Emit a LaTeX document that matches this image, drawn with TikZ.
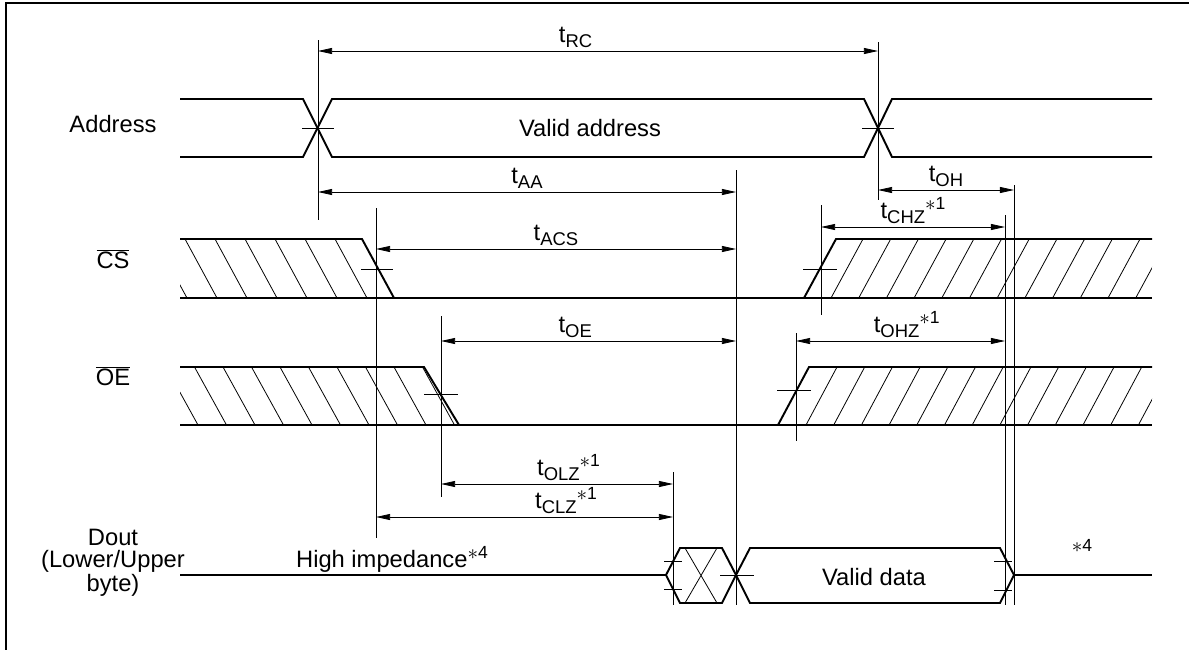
\documentclass[tikz,border=0pt]{standalone}
\usepackage{fontspec}
\setmainfont{Liberation Sans}
\usetikzlibrary{arrows.meta}
\newcommand\tsub[1]{t\raisebox{-3pt}{\fontsize{10.5}{10}\selectfont#1}}
\newcommand\starnote[1]{\raisebox{4.5pt}{\fontsize{12.5}{12}\selectfont$\ast$\fontsize{10}{10}\selectfont\raisebox{0.5pt}{#1}}}
\begin{document}
\begin{tikzpicture}[x=0.02cm,y=-0.02cm,font=\fontsize{13.5}{15}\selectfont,
  sig/.style={line width=1.1pt},
  guide/.style={line width=0.45pt},
  hatch/.style={line width=0.45pt},
  dim/.style={line width=0.45pt,{Triangle[length=8pt,width=3.4pt]}-{Triangle[length=8pt,width=3.4pt]}},
  tlab/.style={above,inner sep=1.5pt}]
\useasboundingbox (0,0) rectangle (1189,649);
\draw[line width=1.7pt] (6,670)--(6,3)--(1200,3);
\node (addr) at (113,124) {Address};
\node (cs) at (113,259) {$\overline{\mbox{CS}}$};
\node (oe) at (113,376) {$\overline{\mbox{OE}}$};
\node[align=center,font=\fontsize{13.5}{12.5}\selectfont] (dout) at (113,563) {Dout\\(Lower/Upper\\byte)};
% address
\draw[sig] (180,99)--(303,99)--(332,157)--(864,157)--(892,99)--(1152,99);
\draw[sig] (180,157)--(303,157)--(332,99)--(864,99)--(892,157)--(1152,157);
\node (va) at (590,128) {Valid address};
% chip select
\draw[sig] (180,239)--(362,239)--(394,298);
\draw[sig] (804,298)--(836,239)--(1152,239);
\draw[sig] (180,298)--(1152,298);
\begin{scope}
\clip (180,239)--(362,239)--(394,298)--(180,298)--cycle;
\foreach \x in {155,185,...,370} \draw[hatch] (\x,239)--++(32,59);
\end{scope}
\begin{scope}
\clip (804,298)--(836,239)--(1152,239)--(1152,298)--cycle;
\foreach \x in {863,890.7,...,1190} \draw[hatch] (\x,239)--++(-32,59);
\end{scope}
% output enable
\draw[sig] (180,367)--(424,367)--(459,425);
\draw[sig] (778,425)--(809,367)--(1152,367);
\draw[sig] (180,425)--(1152,425);
\begin{scope}
\clip (180,367)--(424,367)--(459,425)--(180,425)--cycle;
\foreach \x in {166,194.5,...,430} \draw[hatch] (\x,367)--++(32,58);
\end{scope}
\begin{scope}
\clip (778,425)--(809,367)--(1152,367)--(1152,425)--cycle;
\foreach \x in {837,864.7,...,1190} \draw[hatch] (\x,367)--++(-31,58);
\end{scope}
% data out
\draw[sig] (180,575)--(666,575);
\draw[sig] (666,575)--(680,548)--(722,548)--(736,575)--(722,603)--(680,603)--cycle;
\draw[hatch] (685,548)--(717,603) (717,548)--(685,603);
\draw[sig] (736,575)--(750,548)--(1000,548)--(1014,575)--(1000,603)--(750,603)--cycle;
\draw[sig] (1014,575)--(1152,575);
\node (vd) at (874,577) {Valid data};
\node[anchor=base] (hz) at (392,567) {High impedance\starnote{4}};
\node[anchor=base] (z4) at (1082,560) {\starnote{4}};
% guides
\foreach \x/\ya/\yb in {318/40/220, 878/42/200, 376/208/538, 736/170/605, 441/316/497,
  821/205/315, 796/333/441, 1005/215/605, 1014/185/605, 673/472/605}
  \draw[guide] (\x,\ya)--(\x,\yb);
\foreach \x/\y/\w in {318/128/16, 878/128/16, 377/269/16, 820/269/17, 441/394/17, 794/390/17,
  673/561/9, 673/589/9, 737/575/17, 1003/561/9, 1003/590/9}
  \draw[guide] (\x-\w,\y)--(\x+\w,\y);
% timing
\foreach \n/\x/\y in {rcA/318/51, rcB/878/51, aaA/318/192, aaB/736/192, acsA/376/249, acsB/736/249,
  oeA/441/341, oeB/736/341, olzA/441/484, olzB/673/484, clzA/376/517, clzB/673/517,
  ohA/878/190, ohB/1014/190, chzA/821/227, chzB/1005/227, ohzA/796/341, ohzB/1005/341}
  \coordinate (\n) at (\x,\y);
\draw[dim] (rcA)--(rcB) node[tlab,pos=0.46] (trc) {\tsub{RC}};
\draw[dim] (aaA)--(aaB) node[tlab,midway] (taa) {\tsub{AA}};
\draw[dim] (acsA)--(acsB) node[tlab,midway] (tacs) {\tsub{ACS}};
\draw[dim] (oeA)--(oeB) node[tlab,pos=0.455] (toe) {\tsub{OE}};
\draw[dim] (olzA)--(olzB) node[tlab,pos=0.55] (tolz) {\tsub{OLZ}\starnote{1}};
\draw[dim] (clzA)--(clzB) node[tlab,pos=0.64] (tclz) {\tsub{CLZ}\starnote{1}};
\draw[dim] (ohA)--(ohB) node[tlab,midway] (toh) {\tsub{OH}};
\draw[dim] (chzA)--(chzB) node[tlab,midway] (tchz) {\tsub{CHZ}\starnote{1}};
\draw[dim] (ohzA)--(ohzB) node[tlab,pos=0.53] (tohz) {\tsub{OHZ}\starnote{1}};
\end{tikzpicture}
\end{document}
